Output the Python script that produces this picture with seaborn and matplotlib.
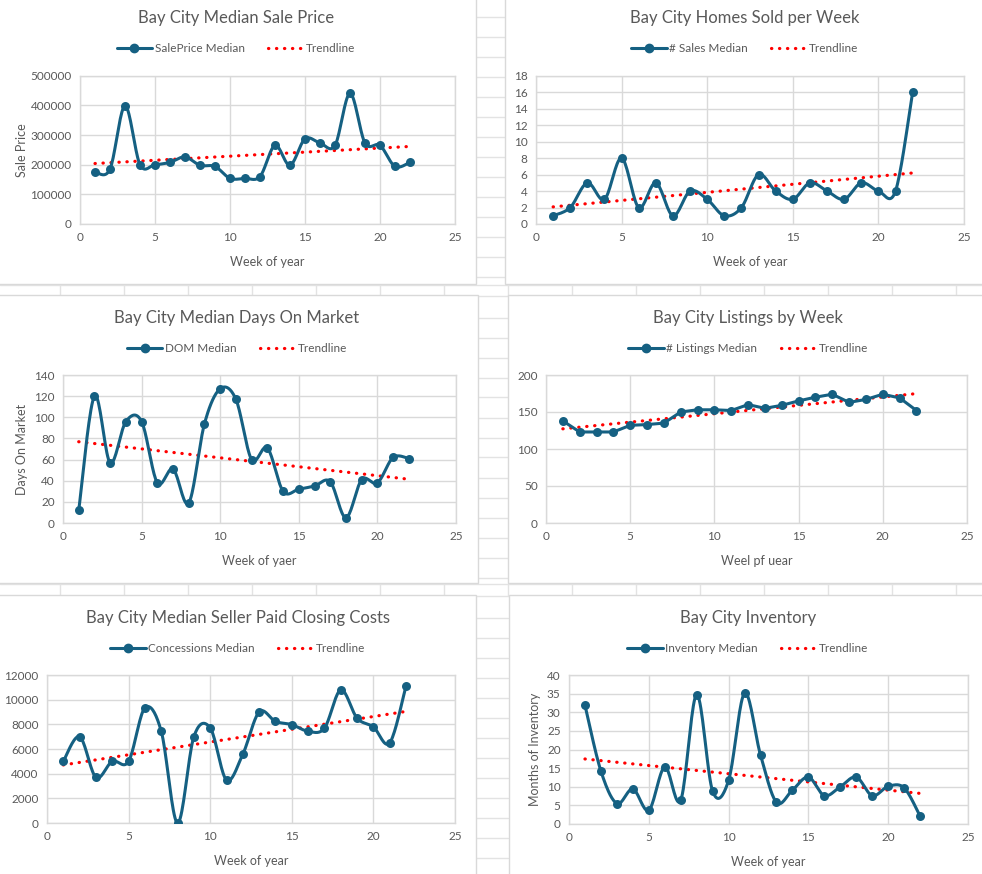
import numpy as np
import pandas as pd
import matplotlib
matplotlib.use("Agg")
import matplotlib.pyplot as plt
from matplotlib.lines import Line2D
import seaborn as sns

W, H = 982, 874

weeks = list(range(1, 23))

sale_price = [175000, 185000, 398000, 200000, 200000, 208000, 226000, 198000, 194000, 154000, 154000,
              160000, 265000, 198000, 287000, 273000, 265000, 440000, 273000, 265000, 194000, 208000]
homes_sold = [1, 2, 5, 3, 8, 2, 5, 1, 4, 3, 1, 2, 6, 4, 3, 5, 4, 3, 5, 4, 4, 16]
dom = [12, 120, 57, 96, 96, 38, 51, 19, 94, 127, 117, 60, 71, 30, 32, 35, 39, 5, 41, 38, 62, 61]
listings = [138, 123, 123, 123, 132, 133, 135, 150, 153, 153, 152, 160, 155, 159, 165, 170, 174, 163,
            167, 174, 169, 152]
concessions = [5000, 7000, 3700, 5000, 5000, 9330, 7440, 0, 7000, 7710, 3480, 5580, 9000, 8230, 7980,
               7440, 7690, 10790, 8500, 7790, 6500, 11110]
inventory = [31.9, 14.2, 5.5, 9.4, 3.7, 15.3, 6.4, 34.7, 8.8, 11.7, 35.1, 18.5, 5.8, 9.1, 12.6, 7.6,
             10.0, 12.6, 7.6, 10.1, 9.7, 2.1]

titles = ["Bay City Median Sale Price", "Bay City Homes Sold per Week",
          "Bay City Median Days On Market", "Bay City Listings by Week",
          "Bay City Median Seller Paid Closing Costs", "Bay City Inventory"]
series_names = ["SalePrice Median", "# Sales Median", "DOM Median", "# Listings Median",
                "Concessions Median", "Inventory Median"]
x_labels = ["Week of year", "Week of year", "Week of yaer", "Weel pf uear", "Week of year", "Week of year"]
y_labels = ["Sale Price", "", "Days On Market", "", "", "Months of Inventory"]
y_ticks = [np.arange(0, 500001, 100000), np.arange(0, 19, 2), np.arange(0, 141, 20),
           np.arange(0, 201, 50), np.arange(0, 12001, 2000), np.arange(0, 41, 5)]
smoothed = [True, True, True, False, True, True]

# layout in pixels: chart box, plot area, title y, legend y, title/legend centre x, ylabel x
boxes = [(-2, -2, 476, 284), (505, -2, 984, 284), (-2, 295, 478, 583),
         (508, 295, 984, 583), (-2, 595, 476, 876), (509, 595, 984, 876)]
areas = [(80, 75.7, 455, 224), (536, 75.7, 964, 224), (63, 375, 456, 523),
         (546, 375, 967, 523), (47, 675, 455, 823), (569, 675, 968, 824)]
title_y = [18, 18, 318, 318, 618, 618]
legend_y = [49, 49, 349, 349, 649, 649]
centers = [236, 745, 237, 748, 238, 748]
ylabel_x = [22, None, 22, None, None, 535]

BLUE = "#156082"
GREY_TXT = "#595959"
GRID = "#d9d9d9"

sns.set_theme(style="white")
plt.rcParams["font.family"] = ["Lato", "DejaVu Sans"]


def smooth_curve(x, y, n=20):
    # Excel style smoothed line: bezier segments with 1/6 tangent handles
    p = np.column_stack([x, y]).astype(float)
    ext = np.vstack([p[0], p, p[-1]])
    t = np.linspace(0, 1, n)[:, None]
    out = []
    for i in range(len(p) - 1):
        p0, p1 = ext[i + 1], ext[i + 2]
        c1 = p0 + (ext[i + 2] - ext[i]) / 6
        c2 = p1 - (ext[i + 3] - ext[i + 1]) / 6
        seg = (1 - t) ** 3 * p0 + 3 * (1 - t) ** 2 * t * c1 + 3 * (1 - t) * t ** 2 * c2 + t ** 3 * p1
        out.append(seg if i == 0 else seg[1:])
    out = np.vstack(out)
    return out[:, 0], out[:, 1]


def fx(x):
    return x / W


def fy(y):
    return 1 - y / H


fig = plt.figure(figsize=(W / 100, H / 100), dpi=100)

# spreadsheet cell lines in the gaps between charts
cell = "#e3e3e3"
for yy in [284.5, 295.5, 583.5, 595.5]:
    fig.add_artist(Line2D([0, 1], [fy(yy), fy(yy)], color=cell, lw=1, zorder=-5))
for xx in range(60, W, 64):
    for y0, y1 in [(284.5, 295.5), (583.5, 595.5)]:
        fig.add_artist(Line2D([fx(xx), fx(xx)], [fy(y0), fy(y1)], color=cell, lw=1, zorder=-5))
for y0, y1, start in [(0, 284, 16), (295, 583, 317), (595, 874, 617)]:
    for yy in range(start, int(y1), 20):
        fig.add_artist(Line2D([fx(476), fx(508)], [fy(yy + 0.5), fy(yy + 0.5)], color=cell, lw=1,
                              zorder=-5))

all_values = [sale_price, homes_sold, dom, listings, concessions, inventory]

for i, vals in enumerate(all_values):
    bx0, by0, bx1, by1 = boxes[i]
    fig.add_artist(plt.Rectangle((fx(bx0), fy(by1)), fx(bx1 - bx0), (by1 - by0) / H,
                                 facecolor="white", edgecolor=GRID, lw=1, zorder=-4))

    ax0, ay0, ax1, ay1 = areas[i]
    ax = fig.add_axes([fx(ax0), fy(ay1), fx(ax1 - ax0), (ay1 - ay0) / H])
    ax.set_facecolor("none")

    df = pd.DataFrame({"week": weeks, "value": vals})

    # trendline (linear fit, like Excel)
    sns.regplot(data=df, x="week", y="value", ax=ax, scatter=False, ci=None, truncate=True,
                color="red", line_kws=dict(lw=2.3, ls=(0, (0.1, 2.4)), dash_capstyle="round", zorder=2))

    if smoothed[i]:
        sx, sy = smooth_curve(df["week"], df["value"])
    else:
        sx, sy = df["week"].values, df["value"].values
    sns.lineplot(x=sx, y=sy, sort=False, estimator=None, ax=ax, color=BLUE, lw=2.2, zorder=3)
    sns.scatterplot(data=df, x="week", y="value", ax=ax, color=BLUE, s=42, edgecolor=BLUE,
                    linewidth=0, zorder=4)

    yt = y_ticks[i]
    ax.set_xlim(0, 25)
    ax.set_ylim(yt[0], yt[-1])
    ax.set_xticks(range(0, 26, 5))
    ax.set_yticks(yt)
    ax.grid(True, color=GRID, lw=1)
    for s in ax.spines.values():
        s.set_color(GRID)
        s.set_linewidth(1)
    ax.tick_params(length=0, labelsize=8.5, colors=GREY_TXT, pad=6)
    ax.set_xlabel(x_labels[i], fontsize=9, color=GREY_TXT, labelpad=9)
    ax.set_ylabel("")

    fig.text(fx(centers[i]), fy(title_y[i]), titles[i], ha="center", va="center",
             fontsize=12, color=GREY_TXT)
    if y_labels[i]:
        fig.text(fx(ylabel_x[i]), fy((ay0 + ay1) / 2), y_labels[i], rotation=90, ha="center",
                 va="center", fontsize=9, color=GREY_TXT)

    handles = [Line2D([], [], color=BLUE, lw=2.2, marker="o", markersize=6),
               Line2D([], [], color="red", lw=2.3, ls=(0, (0.1, 2.4)), dash_capstyle="round")]
    ax.legend(handles, [series_names[i], "Trendline"], loc="center", ncol=2, frameon=False,
              bbox_to_anchor=(fx(centers[i]), fy(legend_y[i])), bbox_transform=fig.transFigure,
              fontsize=8.5, labelcolor=GREY_TXT, handlelength=3.0, handletextpad=0.2,
              columnspacing=2.0)

fig.savefig("out.png", dpi=100, facecolor="white")
